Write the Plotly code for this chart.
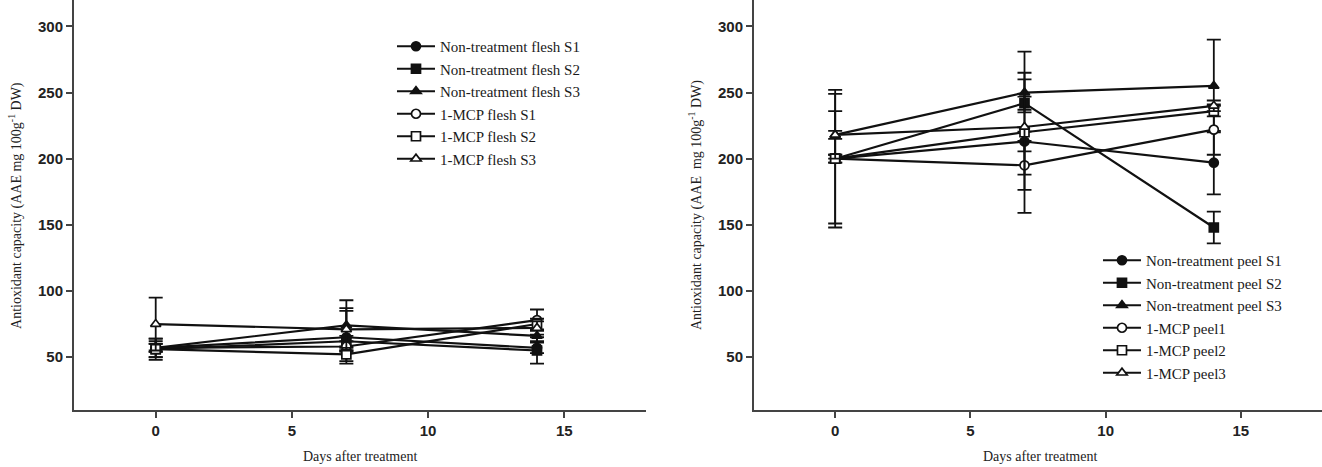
import plotly.graph_objects as go

# ---------------- data ----------------
days = [0, 7, 14]

x_ticks = [0, 5, 10, 15]
y_ticks = [50, 100, 150, 200, 250, 300]

# Left panel: flesh
flesh_labels = ["Non-treatment flesh S1", "Non-treatment flesh S2", "Non-treatment flesh S3",
                "1-MCP flesh S1", "1-MCP flesh S2", "1-MCP flesh S3"]
flesh_nt_s1 = [57, 65, 57]
flesh_nt_s2 = [56, 62, 55]
flesh_nt_s3 = [57, 74, 66]
flesh_mcp_s1 = [57, 58, 78]
flesh_mcp_s2 = [56, 52, 75]
flesh_mcp_s3 = [75, 71, 72]
flesh_nt_s1_err = [7, 20, 4]
flesh_nt_s2_err = [6, 4, 10]
flesh_nt_s3_err = [3, 19, 4]
flesh_mcp_s1_err = [3, 4, 8]
flesh_mcp_s2_err = [8, 5, 4]
flesh_mcp_s3_err = [20, 16, 5]

# Right panel: peel
peel_labels = ["Non-treatment peel S1", "Non-treatment peel S2", "Non-treatment peel S3",
               "1-MCP peel1", "1-MCP peel2", "1-MCP peel3"]
peel_nt_s1 = [200, 213, 197]
peel_nt_s2 = [200, 242, 148]
peel_nt_s3 = [218, 250, 255]
peel_mcp_1 = [200, 195, 222]
peel_mcp_2 = [200, 220, 236]
peel_mcp_3 = [218, 224, 240]
peel_nt_s1_err = [52, 7.5, 24]
peel_nt_s2_err = [49, 5, 12]
peel_nt_s3_err = [3, 15, 35]
peel_mcp_1_err = [3, 18.5, 19]
peel_mcp_2_err = [3, 61, 4]
peel_mcp_3_err = [18, 36, 4]

# ---------------- styling ----------------
symbols = ["circle", "square", "triangle-up", "circle", "square", "triangle-up"]
fills = ["#111111", "#111111", "#111111", "white", "white", "white"]
INK = "#111111"
AXIS = "#444444"
serif = "Liberation Serif, Times New Roman, serif"
sans = "Liberation Sans, Arial, sans-serif"

fig = go.Figure()

flesh_series = [flesh_nt_s1, flesh_nt_s2, flesh_nt_s3, flesh_mcp_s1, flesh_mcp_s2, flesh_mcp_s3]
flesh_errs = [flesh_nt_s1_err, flesh_nt_s2_err, flesh_nt_s3_err,
              flesh_mcp_s1_err, flesh_mcp_s2_err, flesh_mcp_s3_err]
peel_series = [peel_nt_s1, peel_nt_s2, peel_nt_s3, peel_mcp_1, peel_mcp_2, peel_mcp_3]
peel_errs = [peel_nt_s1_err, peel_nt_s2_err, peel_nt_s3_err,
             peel_mcp_1_err, peel_mcp_2_err, peel_mcp_3_err]


def add_series(labels, series, errs, xa, ya, legend):
    for i in range(len(labels)):
        fig.add_trace(go.Scatter(
            x=days, y=series[i], name=labels[i], mode="lines+markers",
            xaxis=xa, yaxis=ya, legend=legend,
            line=dict(color=INK, width=2.2),
            marker=dict(symbol=symbols[i], size=9, color=fills[i],
                        line=dict(color=INK, width=1.7)),
            error_y=dict(type="data", array=errs[i], visible=True,
                         color=INK, thickness=1.8, width=7),
        ))


add_series(flesh_labels, flesh_series, flesh_errs, "x", "y", "legend")
add_series(peel_labels, peel_series, peel_errs, "x2", "y2", "legend2")

axis_common = dict(
    showline=True, linewidth=2, linecolor=AXIS, mirror=False,
    ticks="outside", ticklen=6, tickwidth=2, tickcolor=AXIS,
    showgrid=False, zeroline=False,
    tickfont=dict(family=sans, size=15, color="#222222", weight="bold"),
)

legend_font = dict(family=serif, size=15, color="#1a1a1a")

fig.update_layout(
    width=1322, height=467,
    margin=dict(l=74, r=0, t=0, b=57),
    plot_bgcolor="white", paper_bgcolor="white",
    xaxis=dict(domain=[0, 0.4583], range=[-3, 18], tickvals=x_ticks, anchor="y", **axis_common),
    yaxis=dict(domain=[0, 1], range=[10, 320], tickvals=y_ticks, anchor="x", **axis_common),
    xaxis2=dict(domain=[0.5449, 1], range=[-3, 18], tickvals=x_ticks, anchor="y2", **axis_common),
    yaxis2=dict(domain=[0, 1], range=[10, 320], tickvals=y_ticks, anchor="x2", **axis_common),
    legend=dict(x=0.2548, y=0.9268, xanchor="left", yanchor="top",
                font=legend_font, itemwidth=38,
                bgcolor="rgba(0,0,0,0)", tracegroupgap=0),
    legend2=dict(x=0.8205, y=0.4049, xanchor="left", yanchor="top",
                 font=legend_font, itemwidth=38,
                 bgcolor="rgba(0,0,0,0)", tracegroupgap=0),
    showlegend=True,
)

ytitle = "Antioxidant capacity (AAE mg 100g<sup>-1</sup> DW)"
ytitle2 = "Antioxidant capacity (AAE\u00a0 mg 100g<sup>-1</sup> DW)"
xtitle = "Days after treatment"
title_font = dict(family=serif, size=14, color="#222222")

fig.add_annotation(text=ytitle, xref="paper", yref="paper", x=-0.0473, y=0.5,
                   textangle=-90, showarrow=False, font=title_font,
                   xanchor="center", yanchor="middle")
fig.add_annotation(text=ytitle2, xref="paper", yref="paper", x=0.4976, y=0.5,
                   textangle=-90, showarrow=False, font=title_font,
                   xanchor="center", yanchor="middle")
fig.add_annotation(text=xtitle, xref="paper", yref="paper", x=(360 - 74) / 1248, y=-0.1146,
                   showarrow=False, font=title_font, xanchor="center", yanchor="middle")
fig.add_annotation(text=xtitle, xref="paper", yref="paper", x=(1040 - 74) / 1248, y=-0.1146,
                   showarrow=False, font=title_font, xanchor="center", yanchor="middle")

fig.write_html("out.html")
